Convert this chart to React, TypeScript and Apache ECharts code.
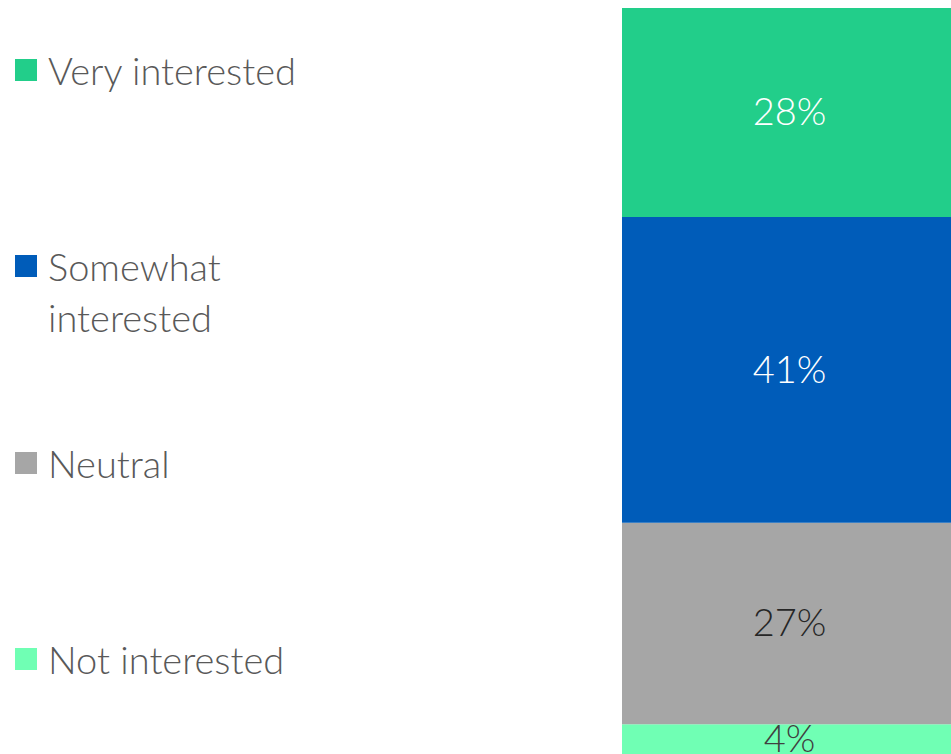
import React, { useEffect, useRef } from "react";
import * as echarts from "echarts";

const categories = ["Interest"];
const seriesNames = ["Not interested", "Neutral", "Somewhat interested", "Very interested"];
const seriesValues = [4, 27, 41, 28];
const seriesColors = ["#70FFB4", "#A6A6A6", "#005CB9", "#22CE8A"];
const labelColors = ["#404040", "#262626", "#FFFFFF", "#FFFFFF"];

const FONT = "Lato, 'Noto Sans', sans-serif";

export default function App() {
  const ref = useRef<HTMLDivElement>(null);
  useEffect(() => {
    if (!ref.current) return;
    const chart = echarts.init(ref.current, undefined, { renderer: "svg" });
    const legendTops = [51, 188, 444, 640];
    const legendOrder = ["Very interested", "Somewhat interested", "Neutral", "Not interested"];
    const legends = legendOrder.map((name, i) => ({
      data: [name],
      left: 15,
      top: legendTops[i],
      padding: 0,
      orient: "vertical",
      itemWidth: 22,
      itemHeight: 22,
      icon: "rect",
      selectedMode: false,
      formatter: name === "Somewhat interested" ? "\nSomewhat\ninterested" : "{name}",
      textStyle: {
        fontFamily: FONT,
        fontSize: 38,
        fontWeight: 300,
        color: "#595959",
        padding: [0, 0, 3, 6],
        ...(name === "Somewhat interested" ? { lineHeight: 51 } : {}),
      },
    }));
    chart.setOption({
      animation: false,
      legend: legends,
      grid: { left: 622, right: 0, top: 8, bottom: 0, containLabel: false },
      xAxis: { type: "category", data: categories, show: false },
      yAxis: { type: "value", min: 0, max: 100, show: false },
      series: seriesNames.map((name, i) => ({
        name,
        type: "bar",
        stack: "total",
        barWidth: "100%",
        data: [seriesValues[i]],
        itemStyle: { color: seriesColors[i] },
        label: {
          show: true,
          position: "inside",
          offset: [3, -2],
          formatter: "{c}%",
          fontFamily: FONT,
          fontSize: 38,
          fontWeight: 300,
          color: labelColors[i],
        },
      })),
    });
    return () => chart.dispose();
  }, []);
  return (
    <div
      ref={ref}
      style={{ position: "absolute", left: 0, top: 0, width: 951, height: 754 }}
    />
  );
}
